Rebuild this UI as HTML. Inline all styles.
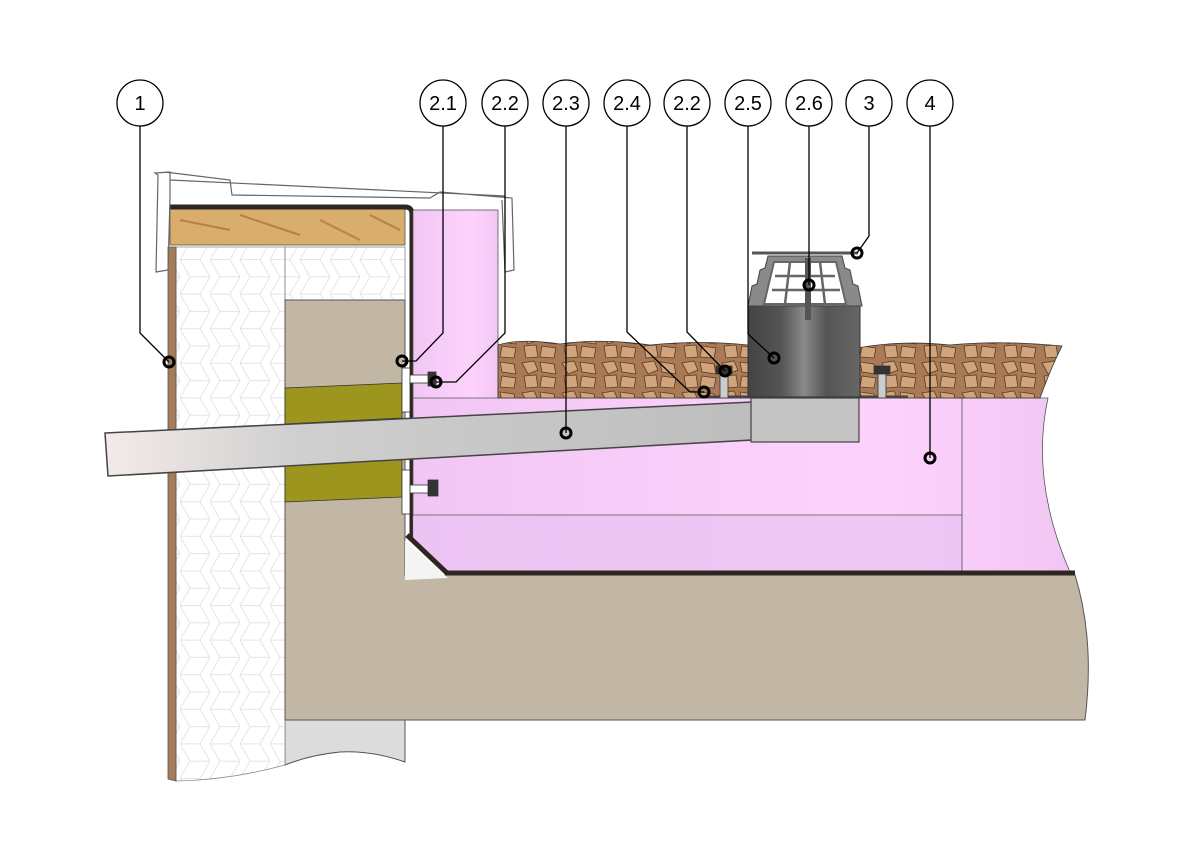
<!DOCTYPE html>
<html><head><meta charset="utf-8"><style>
html,body{margin:0;padding:0;background:#fff;}
svg{display:block;}
text{font-family:"Liberation Sans",sans-serif;}
</style></head><body>
<svg width="1200" height="846" viewBox="0 0 1200 846" xmlns="http://www.w3.org/2000/svg">
<defs>
<pattern id="hex" width="30" height="34.6" patternUnits="userSpaceOnUse">
<path d="M0,17.3 L10,0 L30,0 M10,0 M0,17.3 L10,34.6 L30,34.6 M10,34.6 L0,17.3 M20,17.3 L30,0 M20,17.3 L30,34.6 M20,17.3 L0,17.3" fill="none" stroke="#e4e4e4" stroke-width="1"/>
</pattern>
<linearGradient id="pipe" x1="0" x2="1" y1="0" y2="0"><stop offset="0" stop-color="#f3ebe9"/><stop offset="0.3" stop-color="#cfcfcf"/><stop offset="1" stop-color="#bdbdbd"/></linearGradient>
<linearGradient id="pink" x1="0" x2="1"><stop offset="0" stop-color="#f2c6f4"/><stop offset="0.7" stop-color="#fdd3fd"/><stop offset="1" stop-color="#f2c6f4"/></linearGradient>
<linearGradient id="cyl" x1="0" x2="1"><stop offset="0" stop-color="#444"/><stop offset="0.3" stop-color="#555"/><stop offset="0.5" stop-color="#8a8a8a"/><stop offset="0.7" stop-color="#555"/><stop offset="1" stop-color="#666"/></linearGradient>
<pattern id="grav" width="40" height="30" patternUnits="userSpaceOnUse">
<rect width="40" height="30" fill="#a97a55"/>
<path d="M2,3 L14,1 L18,10 L8,14 Z M20,2 L34,4 L36,14 L22,12 Z M4,16 L16,15 L18,27 L6,28 Z M22,16 L36,18 L34,28 L20,27 Z" fill="#d0a57d" stroke="#5a3a22" stroke-width="0.8"/>
</pattern>
</defs>

<path d="M285,720 L405,720 L405,762 Q370,750 340,752 Q310,755 285,765 Z" fill="#dcdcdc" stroke="#555" stroke-width="1"/>
<path d="M176,247 L285,247 L285,765 Q230,780 176,781 Z" fill="#fff"/>
<path d="M176,247 L285,247 L285,765 Q230,780 176,781 Z" fill="url(#hex)" stroke="#888" stroke-width="0.8"/>
<path d="M168,247 L176,247 L176,781 L168,779 Z" fill="#a47c5a" stroke="#555" stroke-width="0.8"/>
<rect x="285" y="247" width="120" height="53" fill="url(#hex)" stroke="#888" stroke-width="0.8"/>
<path d="M285,300 L405,300 L405,575 L1075,575 Q1095,640 1085,720 L285,720 Z" fill="#c2b6a5" stroke="#555" stroke-width="1"/>
<path d="M285,388 L402,383 L402,418 L285,424 Z" fill="#9c951e" stroke="#333" stroke-width="0.8"/>
<path d="M285,462 L402,458 L402,497 L285,502 Z" fill="#9c951e" stroke="#333" stroke-width="0.8"/>
<rect x="170" y="209" width="235" height="36" fill="#d9ad6c" stroke="#555" stroke-width="0.8"/>
<path d="M180,220 L230,230 M240,215 L300,235 M320,220 L360,240 M370,215 L400,230" stroke="#b4843f" stroke-width="2"/>
<path d="M170,207 L405,207 Q412,207 412,214 L412,540" fill="none" stroke="#2e2620" stroke-width="5"/>
<path d="M405,540 L448,578 L405,580 Z" fill="#f4f4f4"/>
<rect x="413" y="210" width="85" height="190" fill="url(#pink)" stroke="#555" stroke-width="0.8"/>
<path d="M413,398 L1048,398 Q1030,480 1070,572 L445,572 L413,540 Z" fill="url(#pink)" stroke="#555" stroke-width="0.8"/>
<path d="M413,515 L962,515 L962,572 L445,572 L413,540 Z" fill="#eac3f2" opacity="0.7"/>
<path d="M413,515 L962,515 M962,398 L962,572" stroke="#555" stroke-width="0.8" fill="none"/>
<path d="M407,535 L447,573 L1075,573" fill="none" stroke="#2e2620" stroke-width="5"/>
<path d="M498,345 Q520,338 560,344 Q600,338 650,345 Q700,340 748,345 L748,398 L498,398 Z" fill="url(#grav)" stroke="#333" stroke-width="0.8"/>
<path d="M858,348 Q900,340 950,345 Q1000,340 1062,346 Q1050,370 1040,398 L858,398 Z" fill="url(#grav)" stroke="#333" stroke-width="0.8"/>
<path d="M105,433 L752,402 L752,440 L108,476 Z" fill="url(#pipe)" stroke="#444" stroke-width="1.5"/>
<rect x="751" y="398" width="108" height="44" fill="#c4c4c4" stroke="#444" stroke-width="1.2"/>
<path d="M700,397 L908,397" stroke="#444" stroke-width="3"/>
<rect x="748" y="304" width="112" height="93" fill="url(#cyl)" stroke="#333" stroke-width="1"/>
<path d="M768,256 L842,256 L845,268 L850,270 L853,284 L858,286 L862,306 L748,306 L752,286 L757,284 L760,270 L765,268 Z" fill="#8a8a8a" stroke="#444" stroke-width="1"/>
<path d="M774,262 L836,262 L846,304 L764,304 Z" fill="#fff" stroke="#666" stroke-width="2"/>
<path d="M775,276 L835,276 M772,290 L840,290 M790,262 L785,304 M820,262 L825,304" fill="none" stroke="#666" stroke-width="2.5"/>
<rect x="805" y="258" width="6" height="62" fill="#555"/>
<path d="M752,253 L858,253" stroke="#555" stroke-width="3"/>
<g fill="#fff" stroke="#333" stroke-width="0.8">
<rect x="402" y="368" width="8" height="44"/><rect x="410" y="375" width="22" height="8"/><rect x="428" y="372" width="8" height="14" fill="#333"/>
<rect x="402" y="470" width="8" height="44"/><rect x="410" y="485" width="22" height="8"/><rect x="428" y="480" width="10" height="16" fill="#333"/>
<rect x="720" y="370" width="8" height="28" fill="#ccc"/><rect x="716" y="366" width="16" height="8" fill="#333"/>
<rect x="878" y="370" width="8" height="28" fill="#ccc"/><rect x="874" y="366" width="16" height="8" fill="#333"/>
</g>
<path d="M155,173 L170,172 L170,198 L168,270 L156,272 L158,175 Z" fill="none" stroke="#666" stroke-width="1.2"/>
<path d="M165,172 L230,180 L232,195 L430,198 L440,192 L512,198 L514,270 L505,272 L502,200 M170,180 L505,196" fill="none" stroke="#666" stroke-width="1.2"/>

<g fill="none" stroke="#000" stroke-width="1.3">
<path d="M140,126 L140,333 L169,362"/>
<path d="M443,126 L443,333 L416,361 L402,361"/>
<path d="M505,126 L505,333 L456,382 L436,382"/>
<path d="M566,126 L566,433"/>
<path d="M627,126 L627,332 L690,392 L704,392"/>
<path d="M687,126 L687,332 L725,371"/>
<path d="M748,126 L748,334 L774,358"/>
<path d="M809,126 L809,285"/>
<path d="M869,126 L869,236 L857,253"/>
<path d="M930,126 L930,458"/>
</g>
<g fill="none" stroke="#000" stroke-width="3">
<circle cx="169" cy="362" r="5"/><circle cx="402" cy="361" r="5"/><circle cx="436" cy="382" r="5"/>
<circle cx="566" cy="433" r="5"/><circle cx="704" cy="392" r="5"/><circle cx="725" cy="371" r="5"/>
<circle cx="774" cy="358" r="5"/><circle cx="809" cy="285" r="5"/><circle cx="857" cy="253" r="5"/>
<circle cx="930" cy="458" r="5"/>
</g>
<g fill="#fff" stroke="#000" stroke-width="1.3">
<circle cx="140" cy="103" r="23"/><circle cx="443" cy="103" r="23"/><circle cx="505" cy="103" r="23"/>
<circle cx="566" cy="103" r="23"/><circle cx="627" cy="103" r="23"/><circle cx="687" cy="103" r="23"/>
<circle cx="748" cy="103" r="23"/><circle cx="809" cy="103" r="23"/><circle cx="869" cy="103" r="23"/>
<circle cx="930" cy="103" r="23"/>
</g>
<g font-size="20" text-anchor="middle" fill="#000">
<text x="140" y="110">1</text><text x="443" y="110">2.1</text><text x="505" y="110">2.2</text>
<text x="566" y="110">2.3</text><text x="627" y="110">2.4</text><text x="687" y="110">2.2</text>
<text x="748" y="110">2.5</text><text x="809" y="110">2.6</text><text x="869" y="110">3</text>
<text x="930" y="110">4</text>
</g>
</svg>
</body></html>
